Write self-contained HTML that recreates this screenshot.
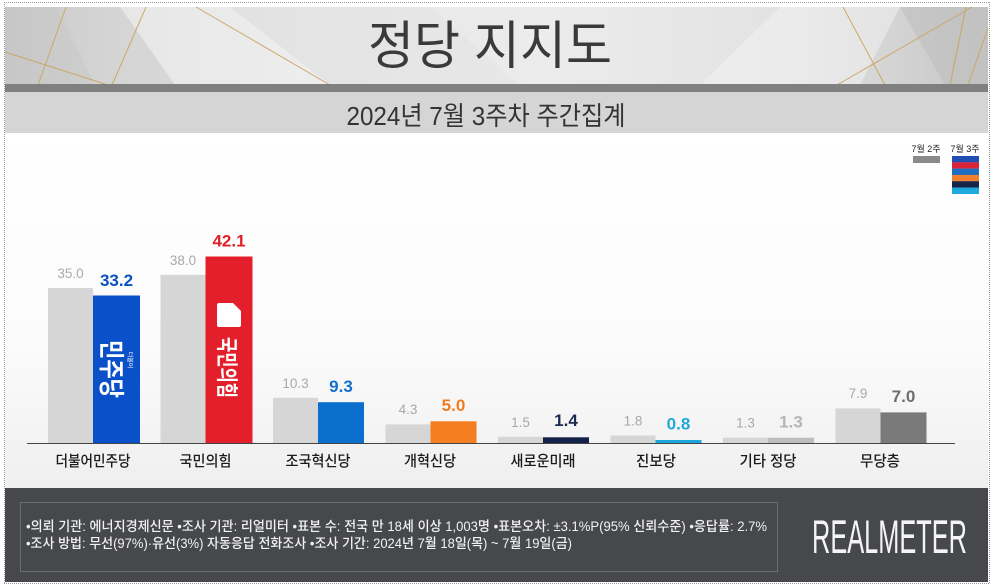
<!DOCTYPE html>
<html lang="ko">
<head>
<meta charset="utf-8">
<style>
  html,body{margin:0;padding:0;background:#fff;}
  body{width:993px;height:586px;overflow:hidden;}
  svg{display:block;}
  text{font-family:"Liberation Sans","Noto Sans CJK KR",sans-serif;}
</style>
</head>
<body>
<svg width="993" height="586" viewBox="0 0 993 586" xmlns="http://www.w3.org/2000/svg">
  <defs>
    <linearGradient id="bn" x1="0" y1="0" x2="1" y2="0">
      <stop offset="0" stop-color="#c2c2c2"/>
      <stop offset="0.12" stop-color="#d9d9d9"/>
      <stop offset="0.3" stop-color="#e6e6e6"/>
      <stop offset="0.55" stop-color="#ececec"/>
      <stop offset="0.8" stop-color="#e2e2e2"/>
      <stop offset="1" stop-color="#c6c6c6"/>
    </linearGradient>
    <linearGradient id="ch" x1="0" y1="0" x2="0" y2="1">
      <stop offset="0" stop-color="#ffffff"/>
      <stop offset="0.6" stop-color="#fbfbfb"/>
      <stop offset="1" stop-color="#efefef"/>
    </linearGradient>
  </defs>

  <rect x="0" y="0" width="993" height="586" fill="#ffffff"/>

  <!-- Banner -->
  <rect x="5" y="7" width="983" height="78" fill="url(#bn)"/>
  <polygon points="5,7 55,7 95,85 5,85" fill="#c9c9c9" opacity="0.6"/>
  <polygon points="120,7 230,7 330,85 175,85" fill="#f3f3f3" opacity="0.55"/>
  <polygon points="60,7 120,7 175,85 95,85" fill="#d2d2d2" opacity="0.5"/>
  <polygon points="230,7 430,7 520,85 330,85" fill="#e2e2e2" opacity="0.4"/>
  <polygon points="780,7 900,7 860,85 700,85" fill="#f4f4f4" opacity="0.5"/>
  <polygon points="900,7 988,7 988,85 945,85" fill="#bdbdbd" opacity="0.55"/>
  <g stroke="#c9a45c" stroke-width="1" fill="none" opacity="0.9">
    <line x1="38" y1="85" x2="66" y2="7"/>
    <line x1="5" y1="52" x2="108" y2="85"/>
    <line x1="112" y1="85" x2="146" y2="7"/>
    <line x1="196" y1="7" x2="330" y2="85"/>
    <line x1="837" y1="85" x2="972" y2="7"/>
    <line x1="843" y1="7" x2="885" y2="85"/>
    <line x1="966" y1="7" x2="950" y2="85"/>
    <line x1="988" y1="28" x2="968" y2="85"/>
  </g>
  <text x="490" y="64" font-size="52" text-anchor="middle" fill="#3a3a3a" textLength="244" lengthAdjust="spacingAndGlyphs">정당 지지도</text>

  <rect x="5" y="84" width="983" height="8" fill="#808080"/>
  <rect x="5" y="92" width="983" height="41" fill="#d5d5d5"/>
  <text x="486" y="125" font-size="26" text-anchor="middle" fill="#333333" textLength="279" lengthAdjust="spacingAndGlyphs">2024년 7월 3주차 주간집계</text>

  <!-- Chart area -->
  <rect x="5" y="133" width="983" height="355" fill="url(#ch)"/>

  <!-- Legend -->
  <text x="926" y="152" font-size="9" text-anchor="middle" fill="#222">7월 2주</text>
  <text x="965" y="152" font-size="9" text-anchor="middle" fill="#222">7월 3주</text>
  <rect x="913" y="156" width="27" height="7" fill="#8a8a8a"/>
  <rect x="952" y="156" width="27" height="6.4" fill="#1f4fb5"/>
  <rect x="952" y="162.3" width="27" height="6.4" fill="#d9243a"/>
  <rect x="952" y="168.6" width="27" height="6.4" fill="#1d6fc4"/>
  <rect x="952" y="174.9" width="27" height="6.4" fill="#f08030"/>
  <rect x="952" y="181.2" width="27" height="6.4" fill="#182447"/>
  <rect x="952" y="187.5" width="27" height="6.5" fill="#1ea8dc"/>

  <!-- Bars -->
  <g>
    <rect x="48" y="288" width="45" height="155.5" fill="#d6d6d6"/>
    <rect x="93" y="295.5" width="47" height="148" fill="#0a50c8"/>
    <rect x="160.5" y="274.8" width="45" height="168.7" fill="#d6d6d6"/>
    <rect x="205.5" y="256.5" width="47" height="187" fill="#e31f2b"/>
    <rect x="273" y="397.8" width="45" height="45.7" fill="#d6d6d6"/>
    <rect x="318" y="402.2" width="46" height="41.3" fill="#0b6fce"/>
    <rect x="385.5" y="424.4" width="45" height="19.1" fill="#d6d6d6"/>
    <rect x="430.5" y="421.3" width="46" height="22.2" fill="#f57f20"/>
    <rect x="498" y="436.8" width="45" height="6.7" fill="#d6d6d6"/>
    <rect x="543" y="437.3" width="46" height="6.2" fill="#14224a"/>
    <rect x="610.5" y="435.5" width="45" height="8" fill="#d6d6d6"/>
    <rect x="655.5" y="440" width="46" height="3.5" fill="#1ba7d9"/>
    <rect x="723" y="437.7" width="45" height="5.8" fill="#d6d6d6"/>
    <rect x="768" y="437.7" width="46" height="5.8" fill="#bdbdbd"/>
    <rect x="835.5" y="408.4" width="45" height="35.1" fill="#d6d6d6"/>
    <rect x="880.5" y="412.4" width="46" height="31.1" fill="#7a7a7a"/>
  </g>

  <!-- Logos inside bars -->
  <text transform="translate(102,369) rotate(90)" font-size="26" font-weight="bold" fill="#ffffff" text-anchor="middle" textLength="58" lengthAdjust="spacingAndGlyphs">민주당</text>
  <text transform="translate(128,360) rotate(90)" font-size="6" fill="#ffffff" text-anchor="middle">더불어</text>
  <path d="M219,303 L233,303 L241,311 L241,325 Q241,327 239,327 L219,327 Q217,327 217,325 L217,305 Q217,303 219,303 Z" fill="#ffffff"/>
  <text transform="translate(219,367.5) rotate(90)" font-size="22" font-weight="bold" fill="#ffffff" text-anchor="middle" textLength="61" lengthAdjust="spacingAndGlyphs">국민의힘</text>

  <!-- Axis -->
  <line x1="27" y1="443.5" x2="955" y2="443.5" stroke="#444444" stroke-width="1"/>

  <!-- Old values -->
  <g font-size="13.5" fill="#a9a9a9" text-anchor="middle">
    <text x="70.5" y="278">35.0</text>
    <text x="183" y="265">38.0</text>
    <text x="295.5" y="388">10.3</text>
    <text x="408" y="414">4.3</text>
    <text x="520.5" y="427">1.5</text>
    <text x="633" y="425.5">1.8</text>
    <text x="745.5" y="427.5">1.3</text>
    <text x="858" y="398">7.9</text>
  </g>
  <!-- New values -->
  <g font-size="17" font-weight="bold" text-anchor="middle">
    <text x="116.5" y="286" fill="#0a4fc0">33.2</text>
    <text x="229" y="246.5" fill="#e0202a">42.1</text>
    <text x="341" y="392" fill="#1470cc">9.3</text>
    <text x="453.5" y="411" fill="#f07d22">5.0</text>
    <text x="566" y="426" fill="#1c2a52">1.4</text>
    <text x="678.5" y="429.5" fill="#20a8d8">0.8</text>
    <text x="791" y="427.5" fill="#b5b5b5">1.3</text>
    <text x="903.5" y="402" fill="#6e6e6e">7.0</text>
  </g>

  <!-- Category labels -->
  <g font-size="15" font-weight="500" fill="#1a1a1a" text-anchor="middle">
    <text x="93" y="466" textLength="75" lengthAdjust="spacingAndGlyphs">더불어민주당</text>
    <text x="205.5" y="466" textLength="52" lengthAdjust="spacingAndGlyphs">국민의힘</text>
    <text x="318" y="466" textLength="65" lengthAdjust="spacingAndGlyphs">조국혁신당</text>
    <text x="430" y="466" textLength="52" lengthAdjust="spacingAndGlyphs">개혁신당</text>
    <text x="543" y="466" textLength="65" lengthAdjust="spacingAndGlyphs">새로운미래</text>
    <text x="656" y="466" textLength="40" lengthAdjust="spacingAndGlyphs">진보당</text>
    <text x="768" y="466" textLength="57" lengthAdjust="spacingAndGlyphs">기타 정당</text>
    <text x="880" y="466" textLength="40" lengthAdjust="spacingAndGlyphs">무당층</text>
  </g>

  <!-- Footer -->
  <rect x="5" y="488" width="983" height="94" fill="#46484c"/>
  <rect x="20.5" y="502.5" width="757" height="69" fill="none" stroke="#6b6d71" stroke-width="1"/>
  <text x="26" y="531" font-size="13.5" font-weight="500" fill="#f2f2f2" textLength="741" lengthAdjust="spacingAndGlyphs">•의뢰 기관: 에너지경제신문  •조사 기관: 리얼미터 •표본 수: 전국 만 18세 이상 1,003명 •표본오차: ±3.1%P(95% 신뢰수준) •응답률: 2.7%</text>
  <text x="26" y="548" font-size="13.5" font-weight="500" fill="#f2f2f2" textLength="546" lengthAdjust="spacingAndGlyphs">•조사 방법: 무선(97%)·유선(3%) 자동응답 전화조사 •조사 기간: 2024년 7월 18일(목) ~ 7월 19일(금)</text>
  <text x="812" y="553" font-size="47" fill="#f4f4f4" textLength="155" lengthAdjust="spacingAndGlyphs">REALMETER</text>

  <!-- Dotted outer border -->
  <g stroke="#9a9a9a" stroke-width="1" stroke-dasharray="1,1" fill="none">
    <line x1="4.5" y1="2" x2="4.5" y2="584"/>
    <line x1="4" y1="2.5" x2="990" y2="2.5"/>
    <line x1="4" y1="583.5" x2="990" y2="583.5"/>
    <line x1="989.5" y1="2" x2="989.5" y2="584"/>
  </g>
</svg>
</body>
</html>
